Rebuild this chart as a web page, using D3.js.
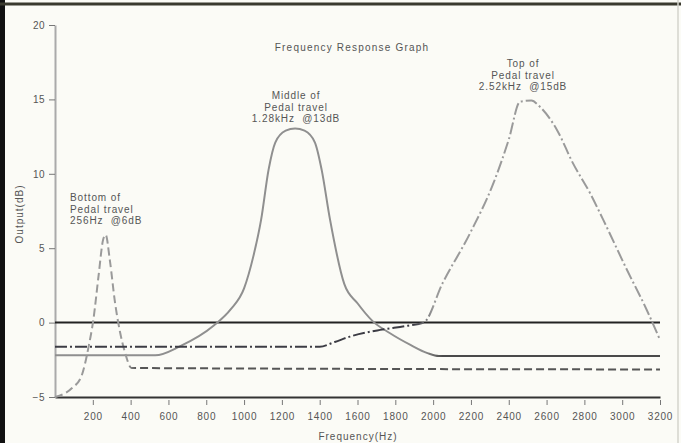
<!DOCTYPE html>
<html>
<head>
<meta charset="utf-8">
<script src="https://cdn.jsdelivr.net/npm/d3@7"></script>
<style>
  body { margin: 0; background: #fff; }
  text { font-family: "Liberation Sans", "DejaVu Sans", sans-serif; }
</style>
</head>
<body>
<script>
// values (Hz, dB)
var bottomFreq = [0, 90, 140, 178, 203, 230, 255, 268, 290, 318, 345, 370, 405, 3200];
var bottomDb   = [-5, -4.4, -3.6, -1.6, 0.2, 3.1, 5.6, 5.9, 4.2, 1.3, -0.7, -2, -3.05, -3.15];

var middleFreq = [0, 530, 660, 840, 930, 1000, 1050, 1090, 1130, 1165, 1220, 1270, 1320, 1375, 1410, 1455, 1530, 1600, 1680, 1770, 1880, 1970, 2030, 3200];
var middleDb   = [-2.2, -2.2, -1.6, -0.2, 0.9, 2.3, 4.5, 6.9, 10.3, 12.1, 12.9, 13.05, 12.9, 12.1, 10.3, 6.9, 2.6, 1.3, 0.1, -0.7, -1.5, -2.05, -2.25, -2.25];

var topFreq = [0, 1400, 1480, 1560, 1720, 1860, 1950, 2050, 2195, 2320, 2400, 2460, 2520, 2565, 2655, 2740, 2830, 2900, 3025, 3130, 3200];
var topDb   = [-1.62, -1.62, -1.3, -0.94, -0.49, -0.22, 0, 2.65, 6.0, 9.4, 12.3, 14.85, 14.92, 14.5, 12.95, 10.7, 8.7, 6.9, 3.55, 0.85, -1.16];

var refFreq = [0, 3200];
var refDb = [0, 0];

var xTicks = [200, 400, 600, 800, 1000, 1200, 1400, 1600, 1800, 2000, 2200, 2400, 2600, 2800, 3000, 3200];
var yTicks = [-5, 0, 5, 10, 15, 20];

var w = 681, h = 443;

var svg = d3.select("body").append("svg")
  .attr("width", w)
  .attr("height", h);

// scanned page look
svg.append("rect").attr("width", w).attr("height", h).attr("fill", "#fbfbf6");
svg.append("rect").attr("x", 0).attr("y", 0).attr("width", 5).attr("height", h).attr("fill", "#111");
svg.append("line").attr("x1", 0).attr("x2", w).attr("y1", 4).attr("y2", 4)
  .attr("stroke", "#3a3a2e").attr("stroke-width", 3);
svg.append("line").attr("x1", 678).attr("x2", 678).attr("y1", 0).attr("y2", h)
  .attr("stroke", "#d4d4cc").attr("stroke-width", 1.5);

var x = d3.scaleLinear().domain([0, 3200]).range([55, 660]);
var y = d3.scaleLinear().domain([-5, 20]).range([397, 25]);

var txt = "#555";

// gradients so the flat baselines come out darker than the peaks, like the scan
var defs = svg.append("defs");
function grad(id, stops) {
  var g = defs.append("linearGradient").attr("id", id)
    .attr("gradientUnits", "userSpaceOnUse")
    .attr("x1", x(0)).attr("x2", x(3200)).attr("y1", 0).attr("y2", 0);
  stops.forEach(function(s) {
    g.append("stop").attr("offset", s[0] / 3200).attr("stop-color", s[1]);
  });
}
grad("gBottom", [[0, "#9a9a9a"], [380, "#9a9a9a"], [430, "#555"], [3200, "#555"]]);
grad("gMiddle", [[0, "#8f8f8f"], [1950, "#8f8f8f"], [2050, "#4a4a4a"], [3200, "#4a4a4a"]]);
grad("gTop", [[0, "#3c3c44"], [1900, "#3c3c44"], [2000, "#9a9a9a"], [3200, "#9a9a9a"]]);

// axes
var xAxis = svg.append("g")
  .attr("transform", "translate(0," + y(-5) + ")")
  .call(d3.axisBottom(x).tickValues(xTicks).tickFormat(d3.format("d"))
    .tickSize(8).tickSizeOuter(0).tickPadding(8));
xAxis.select(".domain").attr("stroke", "#333").attr("stroke-width", 2);
xAxis.selectAll(".tick line").attr("stroke", "#777").attr("y1", 3);
xAxis.selectAll(".tick text")
  .attr("fill", txt).attr("font-size", "10px").attr("letter-spacing", "0.8px");

var yAxis = svg.append("g")
  .attr("transform", "translate(" + x(0) + ",0)")
  .call(d3.axisLeft(y).tickValues(yTicks).tickFormat(d3.format("d"))
    .tickSize(6).tickSizeOuter(0).tickPadding(4));
yAxis.select(".domain").attr("stroke", "#aaa").attr("stroke-width", 2);
yAxis.selectAll(".tick line").attr("stroke", "#777");
yAxis.selectAll(".tick text")
  .attr("fill", txt).attr("font-size", "10px").attr("letter-spacing", "0.5px");

// curves
function pts(fs, ds) {
  return fs.map(function(f, i) { return [f, ds[i]]; });
}
var line = d3.line()
  .x(function(d) { return x(d[0]); })
  .y(function(d) { return y(d[1]); })
  .curve(d3.curveMonotoneX);

svg.append("path").datum(pts(refFreq, refDb))
  .attr("d", line).attr("fill", "none")
  .attr("stroke", "#222").attr("stroke-width", 2);

svg.append("path").datum(pts(middleFreq, middleDb))
  .attr("d", line).attr("fill", "none")
  .attr("stroke", "url(#gMiddle)").attr("stroke-width", 2);

svg.append("path").datum(pts(bottomFreq, bottomDb))
  .attr("d", line).attr("fill", "none")
  .attr("stroke", "url(#gBottom)").attr("stroke-width", 2)
  .attr("stroke-dasharray", "8,4");

svg.append("path").datum(pts(topFreq, topDb))
  .attr("d", line).attr("fill", "none")
  .attr("stroke", "url(#gTop)").attr("stroke-width", 2)
  .attr("stroke-dasharray", "12,3,2,3");

// titles
svg.append("text").text("Frequency Response Graph")
  .attr("x", 352).attr("y", 51).attr("text-anchor", "middle")
  .attr("font-size", "10px").attr("letter-spacing", "1.2px").attr("fill", txt);

svg.append("text").text("Frequency(Hz)")
  .attr("x", 358).attr("y", 440).attr("text-anchor", "middle")
  .attr("font-size", "10px").attr("letter-spacing", "1px").attr("fill", txt);

svg.append("text").text("Output(dB)")
  .attr("transform", "translate(23,214) rotate(-90)")
  .attr("text-anchor", "middle")
  .attr("font-size", "10px").attr("letter-spacing", "1px").attr("fill", txt);

// peak notes
var notes = [
  { x: 70, y: 201, anchor: "start", lines: ["Bottom of", "Pedal travel", "256Hz  @6dB"] },
  { x: 296, y: 99, anchor: "middle", lines: ["Middle of", "Pedal travel", "1.28kHz  @13dB"] },
  { x: 523, y: 67, anchor: "middle", lines: ["Top of", "Pedal travel", "2.52kHz  @15dB"] }
];
notes.forEach(function(n) {
  var t = svg.append("text")
    .attr("text-anchor", n.anchor)
    .attr("font-size", "10px").attr("letter-spacing", "0.9px").attr("fill", txt)
    .attr("xml:space", "preserve");
  n.lines.forEach(function(s, i) {
    t.append("tspan").attr("x", n.x).attr("y", n.y + i * 11.5).text(s);
  });
});
</script>
</body>
</html>
